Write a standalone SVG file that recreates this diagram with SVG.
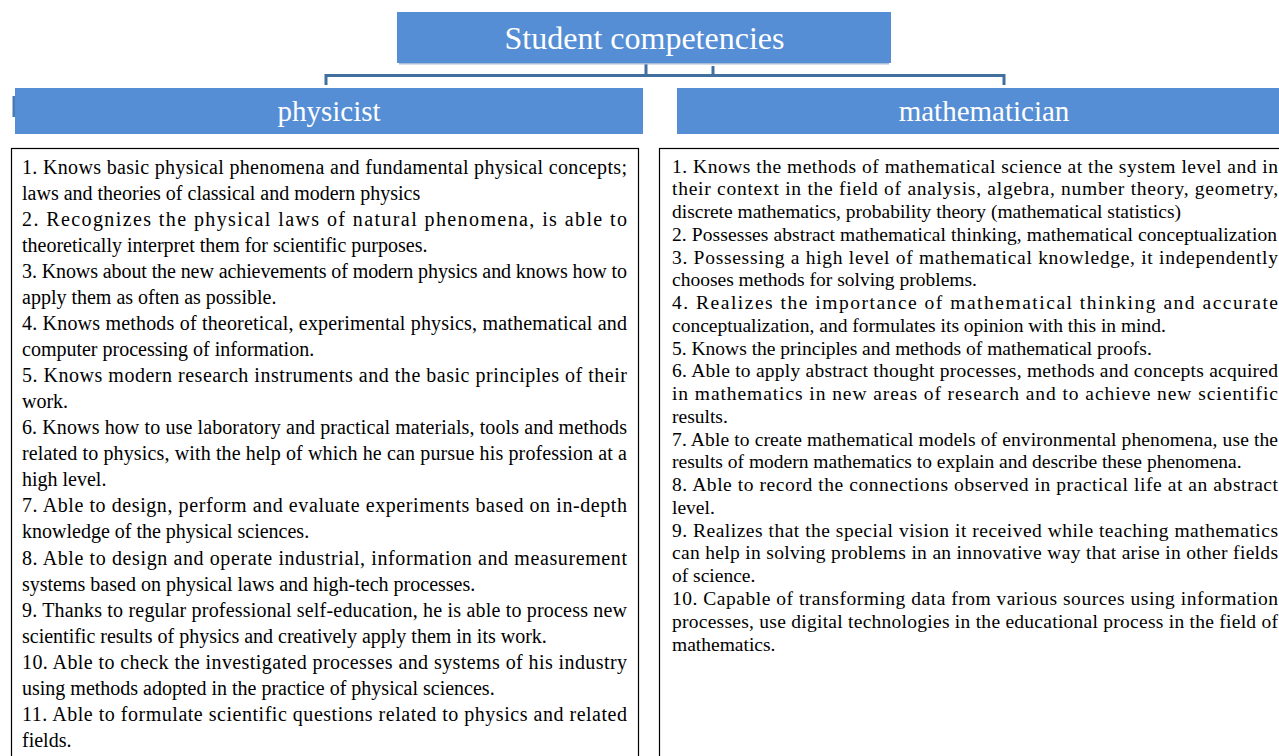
<svg xmlns="http://www.w3.org/2000/svg" width="1279" height="756" viewBox="0 0 1279 756">
<style>
.hdr{fill:#558ED5}
.hdrtxt{font-family:"Liberation Serif","Times New Roman",serif;fill:#ffffff;text-anchor:middle}
.box{fill:#ffffff;stroke:#000000;stroke-width:1.2}
.t{font-family:"Liberation Serif","Times New Roman",serif;fill:#000000}
.l{font-size:20px}
.r{font-size:19.5px}
.con{fill:none;stroke:#41709F;stroke-width:3;stroke-linejoin:miter}
</style>
<rect width="1279" height="756" fill="#ffffff"/>
<g id="connectors">
<path class="con" d="M713,66 V75.5 H326 V85"/>
<path class="con" d="M646,64 V75.5 H1004 V85"/>
</g>
<g id="title">
<rect x="397" y="12" width="494" height="51" class="hdr"/>
<rect x="399" y="63" width="490" height="1.5" fill="#A9BCD6"/>
<text x="644.5" y="49" class="hdrtxt" font-size="32">Student competencies</text>
</g>
<g id="physicist">
<rect x="12.5" y="96" width="3" height="21" fill="#4A7BB5"/>
<rect x="15" y="88" width="628" height="46" class="hdr"/>
<text x="329" y="121" class="hdrtxt" font-size="29">physicist</text>
</g>
<g id="mathematician">
<rect x="677" y="88" width="602" height="46" class="hdr"/>
<text x="984" y="121" class="hdrtxt" font-size="29">mathematician</text>
</g>
<g id="physicist-list">
<rect x="11.5" y="148.5" width="627" height="620" class="box"/>
<text class="t l" x="22" y="174" textLength="605" lengthAdjust="spacing">1. Knows basic physical phenomena and fundamental physical concepts;</text>
<text class="t l" x="22" y="200">laws and theories of classical and modern physics</text>
<text class="t l" x="22" y="226" textLength="605" lengthAdjust="spacing">2. Recognizes the physical laws of natural phenomena, is able to</text>
<text class="t l" x="22" y="252">theoretically interpret them for scientific purposes.</text>
<text class="t l" x="22" y="278" textLength="605" lengthAdjust="spacing">3. Knows about the new achievements of modern physics and knows how to</text>
<text class="t l" x="22" y="304">apply them as often as possible.</text>
<text class="t l" x="22" y="330" textLength="605" lengthAdjust="spacing">4. Knows methods of theoretical, experimental physics, mathematical and</text>
<text class="t l" x="22" y="356">computer processing of information.</text>
<text class="t l" x="22" y="382" textLength="605" lengthAdjust="spacing">5. Knows modern research instruments and the basic principles of their</text>
<text class="t l" x="22" y="408">work.</text>
<text class="t l" x="22" y="434" textLength="605" lengthAdjust="spacing">6. Knows how to use laboratory and practical materials, tools and methods</text>
<text class="t l" x="22" y="460" textLength="605" lengthAdjust="spacing">related to physics, with the help of which he can pursue his profession at a</text>
<text class="t l" x="22" y="486">high level.</text>
<text class="t l" x="22" y="512" textLength="605" lengthAdjust="spacing">7. Able to design, perform and evaluate experiments based on in-depth</text>
<text class="t l" x="22" y="538">knowledge of the physical sciences.</text>
<text class="t l" x="22" y="565" textLength="605" lengthAdjust="spacing">8. Able to design and operate industrial, information and measurement</text>
<text class="t l" x="22" y="591">systems based on physical laws and high-tech processes.</text>
<text class="t l" x="22" y="617" textLength="605" lengthAdjust="spacing">9. Thanks to regular professional self-education, he is able to process new</text>
<text class="t l" x="22" y="643">scientific results of physics and creatively apply them in its work.</text>
<text class="t l" x="22" y="669" textLength="605" lengthAdjust="spacing">10. Able to check the investigated processes and systems of his industry</text>
<text class="t l" x="22" y="695">using methods adopted in the practice of physical sciences.</text>
<text class="t l" x="22" y="721" textLength="605" lengthAdjust="spacing">11. Able to formulate scientific questions related to physics and related</text>
<text class="t l" x="22" y="747">fields.</text>
</g>
<g id="mathematician-list">
<rect x="659.5" y="148.5" width="640" height="620" class="box"/>
<text class="t r" x="672" y="172.5" textLength="606" lengthAdjust="spacing">1. Knows the methods of mathematical science at the system level and in</text>
<text class="t r" x="672" y="195.3" textLength="606" lengthAdjust="spacing">their context in the field of analysis, algebra, number theory, geometry,</text>
<text class="t r" x="672" y="218">discrete mathematics, probability theory (mathematical statistics)</text>
<text class="t r" x="672" y="240.8" textLength="605" lengthAdjust="spacing">2. Possesses abstract mathematical thinking, mathematical conceptualization</text>
<text class="t r" x="672" y="263.5" textLength="606" lengthAdjust="spacing">3. Possessing a high level of mathematical knowledge, it independently</text>
<text class="t r" x="672" y="286.3">chooses methods for solving problems.</text>
<text class="t r" x="672" y="309" textLength="606" lengthAdjust="spacing">4. Realizes the importance of mathematical thinking and accurate</text>
<text class="t r" x="672" y="331.8">conceptualization, and formulates its opinion with this in mind.</text>
<text class="t r" x="672" y="354.6">5. Knows the principles and methods of mathematical proofs.</text>
<text class="t r" x="672" y="377.3" textLength="606" lengthAdjust="spacing">6. Able to apply abstract thought processes, methods and concepts acquired</text>
<text class="t r" x="672" y="400.1" textLength="606" lengthAdjust="spacing">in mathematics in new areas of research and to achieve new scientific</text>
<text class="t r" x="672" y="422.9">results.</text>
<text class="t r" x="672" y="445.6" textLength="606" lengthAdjust="spacing">7. Able to create mathematical models of environmental phenomena, use the</text>
<text class="t r" x="672" y="468.4">results of modern mathematics to explain and describe these phenomena.</text>
<text class="t r" x="672" y="491.1" textLength="606" lengthAdjust="spacing">8. Able to record the connections observed in practical life at an abstract</text>
<text class="t r" x="672" y="513.9">level.</text>
<text class="t r" x="672" y="536.7" textLength="606" lengthAdjust="spacing">9. Realizes that the special vision it received while teaching mathematics</text>
<text class="t r" x="672" y="559.4" textLength="606" lengthAdjust="spacing">can help in solving problems in an innovative way that arise in other fields</text>
<text class="t r" x="672" y="582.2">of science.</text>
<text class="t r" x="672" y="605" textLength="606" lengthAdjust="spacing">10. Capable of transforming data from various sources using information</text>
<text class="t r" x="672" y="627.7" textLength="606" lengthAdjust="spacing">processes, use digital technologies in the educational process in the field of</text>
<text class="t r" x="672" y="650.5">mathematics.</text>
</g>
</svg>
